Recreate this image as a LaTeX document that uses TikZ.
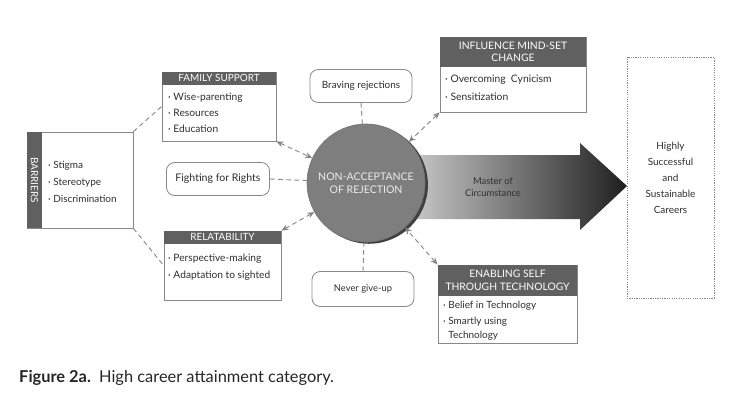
\documentclass[tikz,border=0pt]{standalone}
\usepackage{fontspec}
\setmainfont{Lato}
\usetikzlibrary{arrows.meta,shadows}
\definecolor{hdr}{HTML}{606060}
\definecolor{edge}{HTML}{888888}
\definecolor{ink}{HTML}{2E2E2E}
\definecolor{corefill}{HTML}{7E7E7E}
\begin{document}
\begin{tikzpicture}[x=0.03cm,y=-0.03cm,
    box/.style={draw=edge,line width=0.7pt,inner sep=0pt},
    hdrbar/.style={fill=hdr,text=white,inner sep=0pt,align=center,font=\fontsize{8.5}{10}\selectfont},
    items/.style={anchor=west,align=left,inner sep=0pt,text=ink,font=\fontsize{8.7}{13.6}\selectfont},
    pill/.style={draw=edge,line width=0.7pt,rounded corners=7pt,minimum height=0.99cm,text=ink,inner sep=0pt},
    link/.style={draw=edge,line width=0.8pt,dash pattern=on 4pt off 3pt},
    both/.style={link,{Stealth[length=6pt,width=5pt,fill=hdr]}-{Stealth[length=6pt,width=5pt,fill=hdr]}}]
    \useasboundingbox (0,0) rectangle (729,411);

    % barriers on the left
    \node[box,minimum width=3.18cm,minimum height=2.88cm] (barriers) at (80,180) {};
    \node[hdrbar,rotate=-90,minimum width=2.88cm,minimum height=0.45cm,anchor=south] (barhead) at (barriers.west) {BARRIERS};
    \node[items,font=\fontsize{8.5}{14.5}\selectfont] (baritems) at (48,182) {· Stigma\\· Stereotype\\· Discrimination};

    % family support
    \node[box,minimum width=3.42cm,minimum height=2.07cm] (family) at (219,106.5) {};
    \node[hdrbar,minimum width=3.42cm,minimum height=0.39cm,anchor=north] (famhead) at (family.north) {FAMILY SUPPORT};
    \node[items] (famitems) at (168,113) {· Wise-parenting\\· Resources\\· Education};

    % relatability
    \node[box,minimum width=3.51cm,minimum height=2.07cm] (relat) at (222.5,265.5) {};
    \node[hdrbar,minimum width=3.51cm,minimum height=0.39cm,anchor=north] (relhead) at (relat.north) {RELATABILITY};
    \node[items,font=\fontsize{8.7}{14.4}\selectfont] (relitems) at (168,267) {· Perspective-making\\· Adaptation to sighted};

    % influence mind-set change
    \node[box,minimum width=4.38cm,minimum height=2.25cm] (influence) at (513,74.5) {};
    \node[hdrbar,minimum width=4.38cm,minimum height=0.9cm,anchor=north,font=\fontsize{8.8}{10.5}\selectfont] (infhead) at (influence.north) {INFLUENCE MIND-SET\\CHANGE};
    \node[items,font=\fontsize{8.8}{15.3}\selectfont] (infitems) at (445,88) {· Overcoming\ \ Cynicism\\· Sensitization};

    % enabling self
    \node[box,minimum width=4.17cm,minimum height=2.34cm] (enabling) at (507.5,304) {};
    \node[hdrbar,minimum width=4.17cm,minimum height=0.93cm,anchor=north,font=\fontsize{8.8}{10.5}\selectfont] (enahead) at (enabling.north) {ENABLING SELF\\THROUGH TECHNOLOGY};
    \node[items,font=\fontsize{8.5}{12.5}\selectfont] (enaitems) at (443,321) {· Belief in Technology\\[1pt]· Smartly using\\\phantom{· }Technology};

    % pills round the core
    \node[pill,minimum width=3.06cm,font=\fontsize{8.5}{10}\selectfont] (braving) at (361,86) {Braving rejections};
    \node[pill,minimum width=3.09cm,font=\fontsize{9}{10}\selectfont] (fighting) at (218,179) {Fighting for Rights};
    \node[pill,minimum width=3.06cm,minimum height=1.05cm,font=\fontsize{8}{10}\selectfont] (never) at (363,289) {Never give-up};

    % big arrow
    \shade[left color=black!18,right color=black!88] (400,155) -- (580,155) -- (580,143)
        -- (627,186) -- (580,230) -- (580,219) -- (400,219) -- cycle;
    \node[text=ink,align=center,font=\fontsize{8}{10}\selectfont] (master) at (493,187) {Master of\\Circumstance};

    % core circle
    \node[circle,fill=corefill,draw=black!55,line width=0.5pt,minimum size=3.54cm,
          drop shadow={shadow xshift=2.5pt,shadow yshift=-1.5pt,fill=black!75,opacity=1},
          text=black!8,align=center,font=\fontsize{9}{11}\selectfont] (core) at (366,183) {NON-ACCEPTANCE\\OF REJECTION};

    % outcome
    \node[draw=edge,line width=0.8pt,dash pattern=on 1pt off 1pt,minimum width=2.61cm,minimum height=7.23cm,
          text=ink,align=center,font=\fontsize{8.5}{13.6}\selectfont] (success) at (670.5,177.5)
          {Highly\\Successful\\and\\Sustainable\\Careers};

    % connectors
    \draw[link] (barriers.north east) -- (family.west);
    \draw[link] (barriers.south east) -- (relat.west);
    \draw[link] (fighting.east) -- (core);
    \draw[link] (braving.south) -- (core);
    \draw[link] (never.north) -- (core);
    \draw[both] (family.south east) -- (core);
    \draw[both] (relat.north east) -- (core);
    \draw[both] (influence.south west) -- (core);
    \draw[both] (enabling.north west) -- (core);

    % caption
    \node[anchor=west,inner sep=0pt,text=black!85,font=\fontsize{14}{16}\selectfont] (caption) at (19,378)
        {\textbf{Figure 2a.}\enspace High career attainment category.};
\end{tikzpicture}
\end{document}
